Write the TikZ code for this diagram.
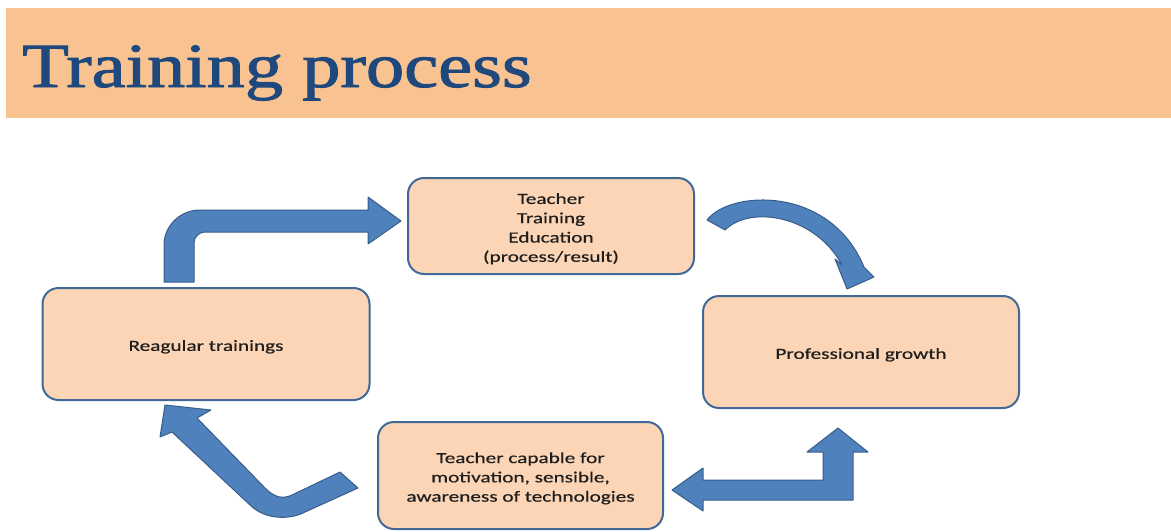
\documentclass[tikz,border=0pt]{standalone}
\usepackage{fontspec}
\setmainfont{Liberation Serif}
\newfontface\titlefont{Liberation Serif}[FakeBold=1.4]
\newfontface\boxfont{Carlito}[FakeBold=0.4]
\usepackage{graphicx}
\definecolor{bandc}{RGB}{249,194,145}
\definecolor{titlec}{RGB}{31,73,125}
\definecolor{boxfill}{RGB}{251,213,181}
\definecolor{boxline}{RGB}{65,104,150}
\definecolor{arrowfill}{RGB}{79,129,189}
\definecolor{arrowline}{RGB}{56,93,138}
\definecolor{textc}{RGB}{30,30,30}
\newcommand\boxtext[1]{{\boxfont\fontsize{15.5}{19.3}\selectfont\raisebox{-3pt}[\height][\depth]{\scalebox{1.37}[1]{\begin{tabular}{@{}c@{}}#1\end{tabular}}}}}
\begin{document}
\begin{tikzpicture}[x=1pt,y=-1pt,
  stagebox/.style={draw=boxline, line width=2pt, fill=boxfill, rounded corners=16pt, inner sep=0pt, text=textc},
  blockarrow/.style={fill=arrowfill, draw=arrowline, line width=1pt, line join=round}]
\useasboundingbox (0,0) rectangle (1171,531);
% title band
\fill[bandc] (6,8) rectangle (1171,118);
\node[anchor=base west, inner sep=0pt, text=titlec] (title) at (22,87) {\titlefont\fontsize{63}{70}\selectfont\scalebox{1.215}[1]{Training process}};
% boxes
\node[stagebox, minimum width=286pt, minimum height=96pt] (teach) at (551,226) {\boxtext{Teacher\\Training\\Education\\(process/result)}};
\node[stagebox, minimum width=327pt, minimum height=112pt] (reg) at (206,344) {\boxtext{Reagular trainings}};
\node[stagebox, minimum width=316pt, minimum height=112pt] (prof) at (861,352) {\boxtext{Professional growth}};
\node[stagebox, minimum width=285pt, minimum height=107pt] (cap) at (520.5,475.5) {\boxtext{Teacher capable for\\motivation, sensible,\\awareness of technologies}};
% arrow: reg -> teach (bent up-right)
\draw[blockarrow] (164,282) -- (164,245) .. controls (164,226) and (180,210) .. (200,210)
  -- (368,210) -- (368,197) -- (401,221) -- (368,244) -- (368,232) -- (205,232)
  .. controls (199,232) and (194,237) .. (194,243) -- (194,282) -- cycle;
% arrow: teach -> prof (curved)
\draw[blockarrow] (707,220) .. controls (730,190) and (830,185) .. (864,267)
  -- (874,277) -- (847,289) -- (835,259) -- (842,265)
  .. controls (815,215) and (750,205) .. (725,230) -- cycle;
% arrow: prof -> cap (bent)
\draw[blockarrow] (672,490) -- (703,468) -- (703,480) -- (823,480) -- (823,452) -- (807,452)
  -- (838,428) -- (868,452) -- (853,452) -- (853,500) -- (703,500) -- (703,511) -- cycle;
% arrow: cap -> reg (hooked)
\draw[blockarrow] (165,405) -- (211,410) -- (197,418) -- (265,488)
  .. controls (275,498) and (283,499) .. (292,495) -- (340,472) -- (358,488) -- (305,512)
  .. controls (290,520) and (265,520) .. (250,505) -- (172,432) -- (160,437) -- cycle;
\end{tikzpicture}
\end{document}
